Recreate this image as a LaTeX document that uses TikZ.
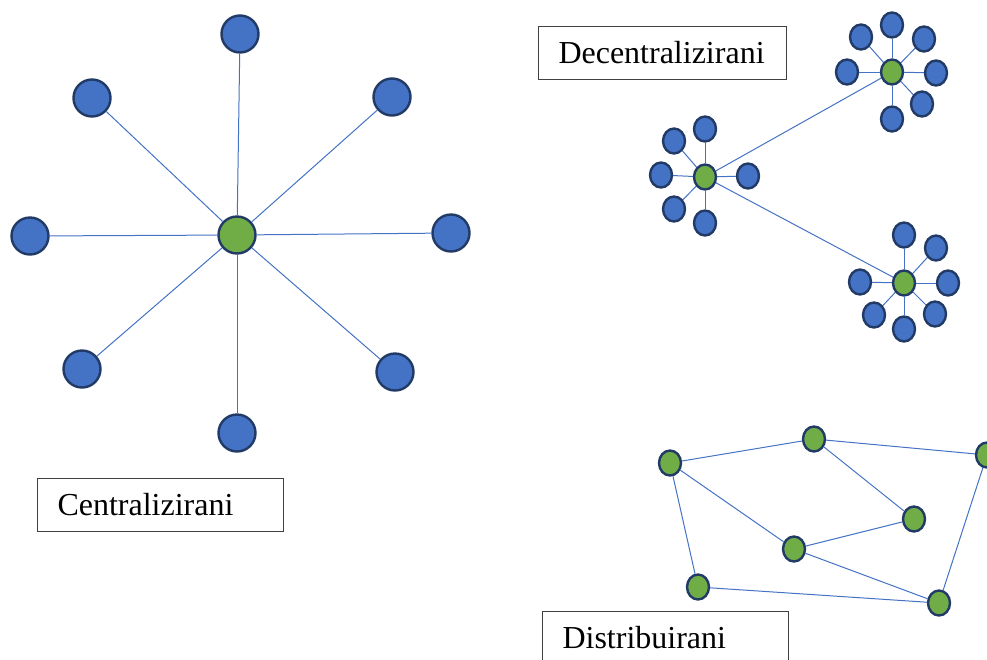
\documentclass[tikz,border=0pt]{standalone}
\usepackage{fontspec}
\setmainfont{Liberation Serif}
\usetikzlibrary{shapes.geometric}
\definecolor{nblue}{HTML}{4472C4}
\definecolor{ngreen}{HTML}{70AD47}
\definecolor{nborder}{HTML}{223A66}
\begin{document}
\begin{tikzpicture}[x=1pt,y=-1pt,
  bigblue/.style={circle,draw=nborder,line width=2.4pt,fill=nblue,minimum size=37pt,inner sep=0pt},
  biggreen/.style={bigblue,fill=ngreen},
  sblue/.style={ellipse,draw=nborder,line width=2.4pt,fill=nblue,minimum width=22pt,minimum height=25pt,inner sep=0pt},
  sgreen/.style={sblue,fill=ngreen},
  link/.style={draw=nblue,line width=1pt},
  lbl/.style={draw=black!75,line width=1pt,anchor=north west,text width=206pt,inner xsep=20pt,minimum height=53pt,align=left,font=\fontsize{32pt}{36pt}\selectfont}]
\useasboundingbox (0,0) rectangle (987,659);
% Centralized
\node[biggreen] (c0) at (237,235) {};
\node[bigblue] (c1) at (240,34) {};
\node[bigblue] (c2) at (92,98) {};
\node[bigblue] (c3) at (392,97) {};
\node[bigblue] (c4) at (30,236) {};
\node[bigblue] (c5) at (451,233) {};
\node[bigblue] (c6) at (82,369) {};
\node[bigblue] (c7) at (395,372) {};
\node[bigblue] (c8) at (237,433) {};
\foreach \i in {1,...,8} \draw[link] (c0) -- (c\i);
\node[lbl] (lc) at (37,478) {Centralizirani};
% Decentralized
\node[lbl,text width=208pt] (ld) at (538,26) {Decentralizirani};
\node[sgreen] (a0) at (892,72) {};
\node[sblue] (a1) at (892,25) {};
\node[sblue] (a2) at (861,37) {};
\node[sblue] (a3) at (924,39) {};
\node[sblue] (a4) at (847,72) {};
\node[sblue] (a5) at (936,73) {};
\node[sblue] (a6) at (922,104) {};
\node[sblue] (a7) at (892,119) {};
\foreach \i in {1,...,7} \draw[link] (a0) -- (a\i);
\node[sgreen] (b0) at (705,177) {};
\node[sblue] (b1) at (705,129) {};
\node[sblue] (b2) at (674,141) {};
\node[sblue] (b3) at (661,175) {};
\node[sblue] (b4) at (748,176) {};
\node[sblue] (b5) at (674,209) {};
\node[sblue] (b6) at (705,223) {};
\foreach \i in {1,...,6} \draw[link] (b0) -- (b\i);
\node[sgreen] (d0) at (904,283) {};
\node[sblue] (d1) at (904,235) {};
\node[sblue] (d2) at (936,248) {};
\node[sblue] (d3) at (860,282) {};
\node[sblue] (d4) at (948,283) {};
\node[sblue] (d5) at (874,315) {};
\node[sblue] (d6) at (935,314) {};
\node[sblue] (d7) at (904,329) {};
\foreach \i in {1,...,7} \draw[link] (d0) -- (d\i);
\draw[link] (b0) -- (a0);
\draw[link] (b0) -- (d0);
% Distributed
\node[sgreen] (n1) at (670,463) {};
\node[sgreen] (n2) at (814,439) {};
\node[sgreen] (n3) at (987,455) {};
\node[sgreen] (n4) at (914,519) {};
\node[sgreen] (n5) at (794,549) {};
\node[sgreen] (n6) at (698,587) {};
\node[sgreen] (n7) at (939,603) {};
\draw[link] (n1) -- (n2);
\draw[link] (n2) -- (n3);
\draw[link] (n2) -- (n4);
\draw[link] (n1) -- (n5);
\draw[link] (n5) -- (n4);
\draw[link] (n1) -- (n6);
\draw[link] (n6) -- (n7);
\draw[link] (n5) -- (n7);
\draw[link] (n3) -- (n7);
\node[lbl] (lr) at (542,611) {Distribuirani};
\end{tikzpicture}
\end{document}
